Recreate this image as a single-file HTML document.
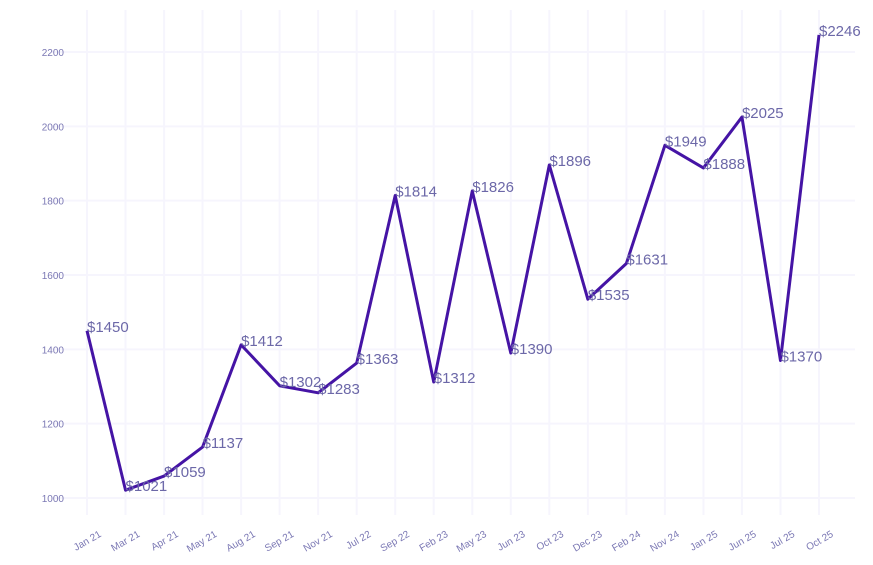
<!DOCTYPE html><html><head><style>body{margin:0;background:#fff}svg{display:block}</style></head><body>
<svg width="873" height="565" xmlns="http://www.w3.org/2000/svg" font-family="Liberation Sans, sans-serif">
<g id="grid" stroke="#f6f5fd" stroke-width="2"></g>
<g id="yl" fill="#7b78b4" font-size="10" text-anchor="end"></g>
<g id="xl" fill="#7b78b4" font-size="10" text-anchor="end"></g>
<polyline id="ln" fill="none" stroke="#4514a5" stroke-width="3" stroke-linejoin="round"/>
<g id="lb" fill="#6c68a8" font-size="15"></g>
<script>
var ns="http://www.w3.org/2000/svg";
var L=["Jan 21","Mar 21","Apr 21","May 21","Aug 21","Sep 21","Nov 21","Jul 22","Sep 22","Feb 23","May 23","Jun 23","Oct 23","Dec 23","Feb 24","Nov 24","Jan 25","Jun 25","Jul 25","Oct 25"];
var V=[1450,1021,1059,1137,1412,1302,1283,1363,1814,1312,1826,1390,1896,1535,1631,1949,1888,2025,1370,2246];
function X(i){return 87+i*(819-87)/19}function Y(v){return 498-(v-1000)*(446/1200)}
function el(p,t,a,txt){var e=document.createElementNS(ns,t);for(var k in a)e.setAttribute(k,a[k]);if(txt)e.textContent=txt;document.getElementById(p).appendChild(e);}
for(var v=1000;v<=2200;v+=200){el("grid","line",{x1:52,x2:855,y1:Y(v),y2:Y(v)});el("yl","text",{x:64,y:Y(v)+4},String(v));}
var pts=[];
for(var i=0;i<20;i++){var x=X(i),y=Y(V[i]);el("grid","line",{x1:x,x2:x,y1:10,y2:515});
pts.push(x+","+y);
el("xl","text",{x:x+15,y:536,transform:"rotate(-30 "+(x+15)+" 536)"},L[i]);
el("lb","text",{x:x,y:y+1},"$"+V[i]);}
document.getElementById("ln").setAttribute("points",pts.join(" "));
</script>
</svg></body></html>
